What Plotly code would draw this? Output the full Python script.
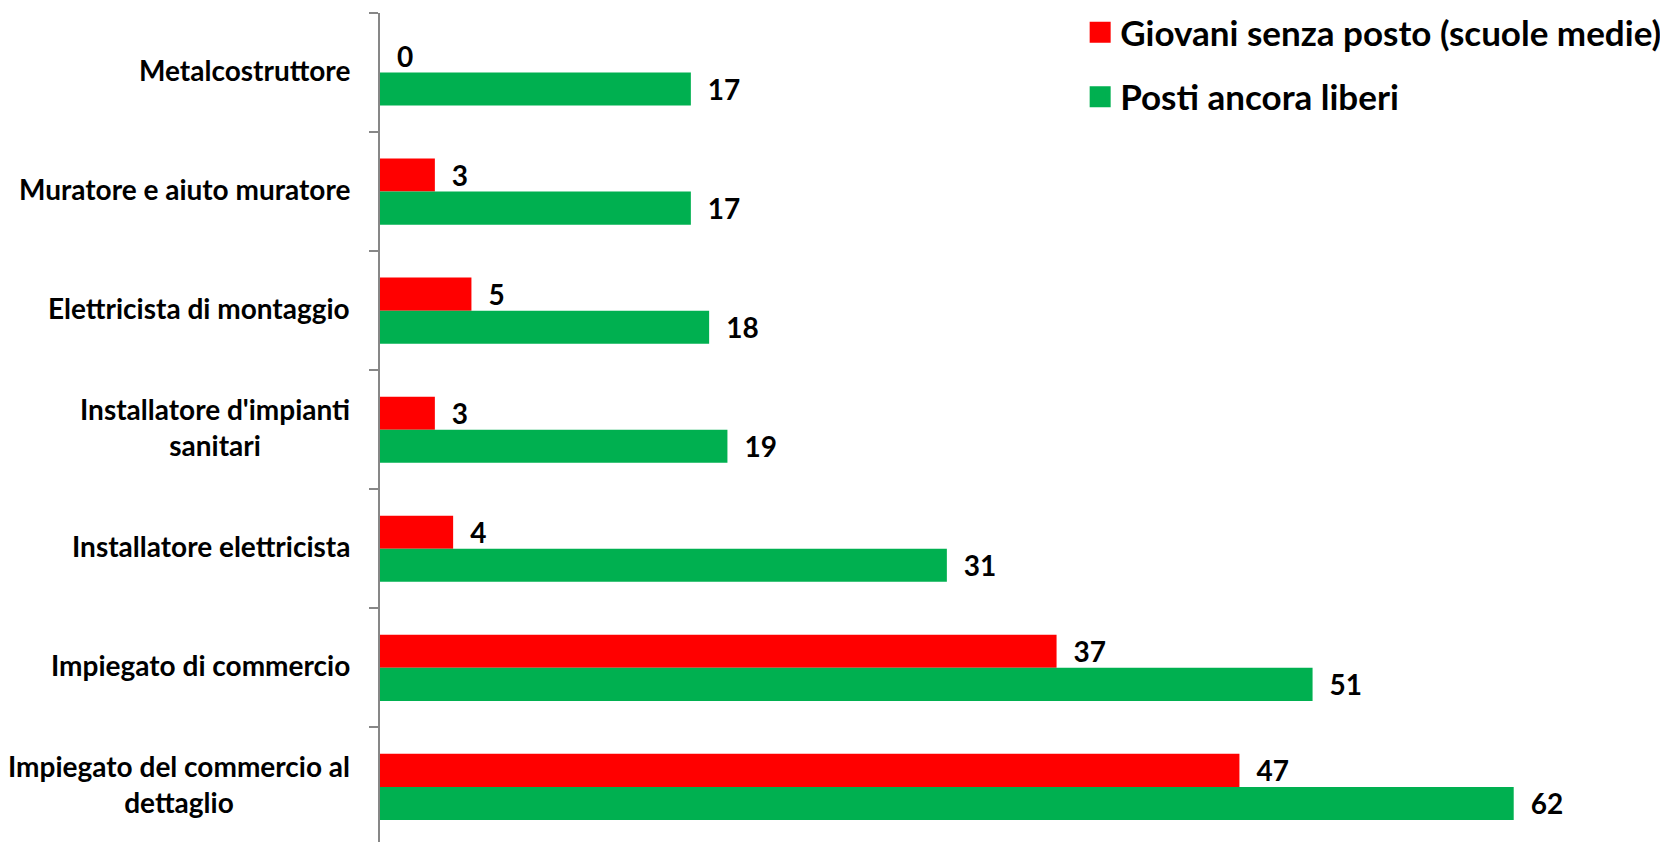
import plotly.graph_objects as go

categories = [
    "Metalcostruttore",
    "Muratore e aiuto muratore",
    "Elettricista di montaggio",
    "Installatore d'impianti<br>sanitari",
    "Installatore elettricista",
    "Impiegato di commercio",
    "Impiegato del commercio al<br>dettaglio",
]
giovani_senza_posto = [0, 3, 5, 3, 4, 37, 47]
posti_liberi = [17, 17, 18, 19, 31, 51, 62]

series_names = ["Giovani senza posto (scuole medie)", "Posti ancora liberi"]
series_colors = ["#FF0000", "#00B050"]
series_values = [giovani_senza_posto, posti_liberi]

FONT = "Lato"
fig = go.Figure()

for name, color, vals in zip(series_names, series_colors, series_values):
    fig.add_trace(go.Bar(
        y=categories, x=vals, orientation="h", name=name,
        marker=dict(color=color, line=dict(width=0)),
        text=[str(v) for v in vals],
        texttemplate="\u2002%{text}",
        textposition="outside", constraintext="none", cliponaxis=False,
        textfont=dict(family=FONT, size=28, color="#000000", weight="bold"),
        showlegend=False, hoverinfo="skip",
    ))

# legend entries
for i, (name, color) in enumerate(zip(series_names, series_colors)):
    fig.add_trace(go.Scatter(
        x=[None], y=[None], mode="markers", name=name,
        marker=dict(symbol="square", size=16, color=color,
                    line=dict(color=color, width=5)),
        legendgroup=f"g{i}", showlegend=True, hoverinfo="skip",
    ))

# category labels (centered multi-line)
for c in categories:
    fig.add_annotation(
        x=0, y=c, xref="x", yref="y", text=c, showarrow=False,
        xanchor="right", yanchor="middle", align="center",
        xshift=-28, yshift=3,
        font=dict(family=FONT, size=28, color="#000000", weight="bold"),
    )

fig.update_layout(
    width=1668, height=842,
    margin=dict(l=372, r=16, t=5, b=0, autoexpand=False),
    paper_bgcolor="white", plot_bgcolor="white",
    barmode="group", bargap=0.445, bargroupgap=0,
    legend=dict(
        x=0.547, xanchor="left", y=1.012, yanchor="top",
        font=dict(family=FONT, size=35, color="#000000", weight="bold"),
        tracegroupgap=16, bgcolor="rgba(0,0,0,0)",
    ),
    xaxis=dict(range=[0, 70], showgrid=False, zeroline=False, showline=False,
               showticklabels=False, ticks=""),
    yaxis=dict(
        type="category", categoryorder="array", categoryarray=categories,
        range=[6.53, -0.5], showgrid=False, zeroline=False,
        showline=True, linecolor="#878787", linewidth=2,
        ticks="outside", tickson="boundaries", ticklen=9, tickwidth=2,
        tickcolor="#878787", showticklabels=False,
    ),
)

fig.write_html("out.html")
